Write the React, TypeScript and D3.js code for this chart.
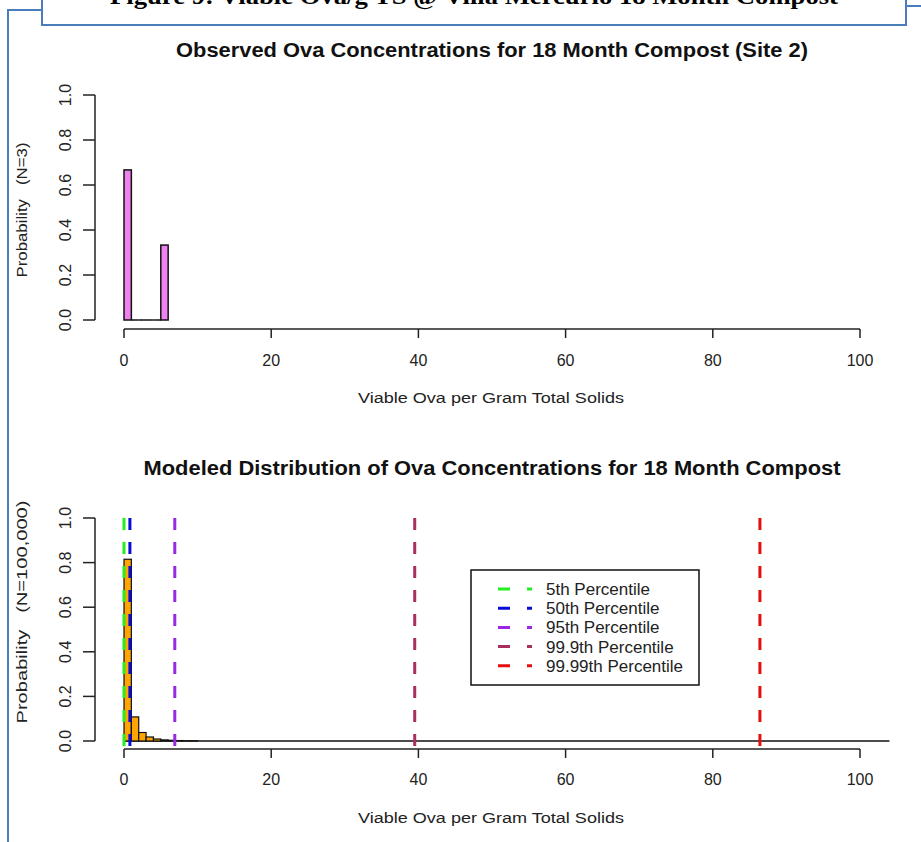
import React from "react";
import * as d3 from "d3";

// Observed histogram (Site 2, N=3): bins of width 1 starting at 0
const observedBreakStart = 0;
const observedBinWidth = 1;
const observedProb = [0.667, 0, 0, 0, 0, 0.333];

// Modeled histogram (N=100,000): bins of width 1 starting at 0
const modeledBreakStart = 0;
const modeledBinWidth = 1;
const modeledProb = [0.815, 0.108, 0.038, 0.018, 0.009, 0.005, 0.003, 0.002, 0.001, 0.001];
const modeledMaxBreak = 104;

// Percentile reference lines
const percentileLabels = [
  "5th Percentile",
  "50th Percentile",
  "95th Percentile",
  "99.9th Percentile",
  "99.99th Percentile",
];
const percentileValues = [0.0, 0.8, 6.9, 39.5, 86.4];
const percentileColors = ["#22ee22", "#0a0ad8", "#9a28e6", "#a83060", "#e50e0e"];

const xTicks = [0, 20, 40, 60, 80, 100];
const yTicks = [0, 0.2, 0.4, 0.6, 0.8, 1.0];

const figureTitle = "Figure 9: Viable Ova/g TS @ Villa Mercurio 18 Month Compost";
const topTitle = "Observed Ova Concentrations for 18 Month Compost (Site 2)";
const bottomTitle = "Modeled Distribution of Ova Concentrations for 18 Month Compost";
const xLabel = "Viable Ova per Gram Total Solids";
const topYLabel = "Probability   (N=3)";
const bottomYLabel = "Probability   (N=100,000)";

const SANS = "'Liberation Sans', Arial, sans-serif";
const SERIF = "'Liberation Serif', 'Times New Roman', serif";
const FRAME = "#4a7ebb";

type PanelProps = {
  xAxisY: number;
  title: string;
  titleY: number;
  titleLen: number;
  yLabel: string;
  yLabelCenter: number;
  yLabelLen: number;
  tickLabelY: number;
  xLabelY: number;
};

function Axes(p: PanelProps & { x: d3.ScaleLinear<number, number>; y: d3.ScaleLinear<number, number> }) {
  const { x, y } = p;
  const axisX = 95;
  return (
    <g>
      <text x={492} y={p.titleY} textAnchor="middle" fontFamily={SANS} fontWeight="bold" fontSize={19.5}
        textLength={p.titleLen} lengthAdjust="spacingAndGlyphs" fill="#111">{p.title}</text>
      {/* y axis */}
      <line x1={axisX} x2={axisX} y1={y(1)} y2={y(0)} stroke="#222" strokeWidth={1.5} />
      {yTicks.map((t) => (
        <g key={t}>
          <line x1={axisX - 12} x2={axisX} y1={y(t)} y2={y(t)} stroke="#222" strokeWidth={1.5} />
          <text transform={`translate(${71},${y(t)}) rotate(-90)`} textAnchor="middle" fontFamily={SANS}
            fontSize={16} fill="#222">{t.toFixed(1)}</text>
        </g>
      ))}
      <text transform={`translate(${27},${p.yLabelCenter}) rotate(-90)`} textAnchor="middle" fontFamily={SANS}
        fontSize={15} fill="#222" textLength={p.yLabelLen} lengthAdjust="spacingAndGlyphs" xmlSpace="preserve">{p.yLabel}</text>
      {/* x axis */}
      <line x1={x(0)} x2={x(100)} y1={p.xAxisY} y2={p.xAxisY} stroke="#222" strokeWidth={1.5} />
      {xTicks.map((t) => (
        <g key={t}>
          <line x1={x(t)} x2={x(t)} y1={p.xAxisY} y2={p.xAxisY + 9} stroke="#222" strokeWidth={1.5} />
          <text x={x(t)} y={p.tickLabelY} textAnchor="middle" fontFamily={SANS} fontSize={16} fill="#222">{t}</text>
        </g>
      ))}
      <text x={491} y={p.xLabelY} textAnchor="middle" fontFamily={SANS} fontSize={15.5} fill="#222"
        textLength={266} lengthAdjust="spacingAndGlyphs">{xLabel}</text>
    </g>
  );
}

export default function App() {
  const x = d3.scaleLinear().domain([0, 100]).range([124, 860]);
  const yTopPanel = d3.scaleLinear().domain([0, 1]).range([320, 95]);
  const yBotPanel = d3.scaleLinear().domain([0, 1]).range([741, 518]);

  const obsBars = observedProb.map((v, i) => ({
    x0: observedBreakStart + i * observedBinWidth,
    x1: observedBreakStart + (i + 1) * observedBinWidth,
    v,
  }));
  const modBars = modeledProb.map((v, i) => ({
    x0: modeledBreakStart + i * modeledBinWidth,
    x1: modeledBreakStart + (i + 1) * modeledBinWidth,
    v,
  }));

  const plotTop = yBotPanel(1.04);
  const plotBottom = yBotPanel(-0.04);

  const legendX = 471;
  const legendY = 570;

  return (
    <svg width={921} height={842} style={{ position: "absolute", left: 0, top: 0, background: "#fff" }}>
      <rect width={921} height={842} fill="#fff" />
      {/* document frame */}
      <path d={`M8,842 V10 H42`} fill="none" stroke={FRAME} strokeWidth={2} />
      <line x1={906} x2={921} y1={6} y2={6} stroke={FRAME} strokeWidth={2} />
      <rect x={42} y={-20} width={864} height={45} fill="#fff" stroke={FRAME} strokeWidth={2} />
      <text x={474} y={4} textAnchor="middle" fontFamily={SERIF} fontWeight="bold" fontSize={24}
        textLength={728} lengthAdjust="spacingAndGlyphs" fill="#000">{figureTitle}</text>

      {/* Observed panel */}
      <Axes x={x} y={yTopPanel} xAxisY={329} title={topTitle} titleY={57} titleLen={632}
        yLabel={topYLabel} yLabelCenter={210} yLabelLen={135} tickLabelY={366} xLabelY={403} />
      <g>
        {obsBars.map((b, i) =>
          b.v > 0 ? (
            <rect key={i} x={x(b.x0)} y={yTopPanel(b.v)} width={x(b.x1) - x(b.x0)} height={yTopPanel(0) - yTopPanel(b.v)}
              fill="#ee82ee" stroke="#111" strokeWidth={1.5} />
          ) : (
            <line key={i} x1={x(b.x0)} x2={x(b.x1)} y1={yTopPanel(0)} y2={yTopPanel(0)} stroke="#111" strokeWidth={1.5} />
          )
        )}
      </g>

      {/* Modeled panel */}
      <Axes x={x} y={yBotPanel} xAxisY={749} title={bottomTitle} titleY={475} titleLen={697}
        yLabel={bottomYLabel} yLabelCenter={612} yLabelLen={223} tickLabelY={785} xLabelY={823} />
      <line x1={x(modeledBreakStart)} x2={x(modeledMaxBreak)} y1={yBotPanel(0)} y2={yBotPanel(0)} stroke="#111" strokeWidth={1.5} />
      <g>
        {modBars.map((b, i) => (
          <rect key={i} x={x(b.x0)} y={yBotPanel(b.v)} width={x(b.x1) - x(b.x0)} height={yBotPanel(0) - yBotPanel(b.v)}
            fill="#ffa500" stroke="#111" strokeWidth={1.2} />
        ))}
      </g>
      <g>
        {percentileValues.map((v, i) => (
          <line key={i} x1={x(v)} x2={x(v)} y1={plotTop} y2={plotBottom} stroke={percentileColors[i]} strokeWidth={3}
            strokeDasharray="12 12" strokeDashoffset={15} />
        ))}
      </g>

      {/* legend */}
      <rect x={legendX} y={legendY} width={228} height={115} fill="#fff" stroke="#111" strokeWidth={1.5} />
      {percentileLabels.map((lab, i) => {
        const cy = legendY + 19 + i * 19.2;
        return (
          <g key={lab}>
            <line x1={498} x2={532} y1={cy} y2={cy} stroke={percentileColors[i]} strokeWidth={3} strokeDasharray="12 17" />
            <text x={546} y={cy + 6} fontFamily={SANS} fontSize={17} fill="#222">{lab}</text>
          </g>
        );
      })}
    </svg>
  );
}
